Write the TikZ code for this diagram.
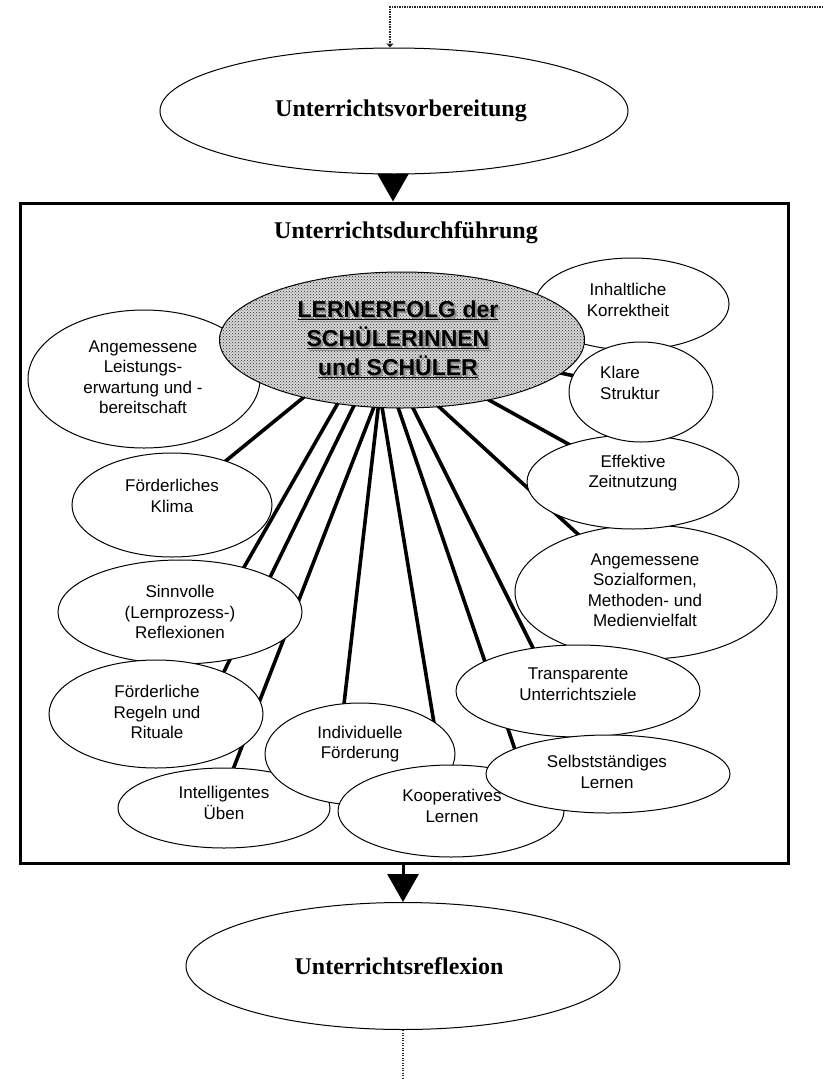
\documentclass[tikz,border=0pt]{standalone}
\usepackage{fontspec}
\setmainfont{Liberation Serif}
\newfontfamily\arialf{Liberation Sans}
\usetikzlibrary{arrows.meta,patterns,shapes.geometric}
\tikzset{
  sat/.style={draw, ellipse, fill=white, line width=1pt, inner sep=0pt},
  stxt/.style={font=\arialf\fontsize{17}{20.5}\selectfont, align=center, inner sep=0pt},
  ttl/.style={font=\fontsize{24}{28}\selectfont\bfseries, inner sep=0pt},
  conn/.style={line width=3.6pt},
  dotline/.style={line width=1.4pt, black!85, dash pattern=on 1.4pt off 1.1pt},
  bigarrow/.style={line width=3pt, -{Triangle[length=28pt,width=31pt]}}
}
\begin{document}
\begin{tikzpicture}[x=1pt,y=-1pt]
\fill[white] (0,0) rectangle (823,1079);
\useasboundingbox (0,0) rectangle (823,1079);

% top and bottom ellipses, box
\node[sat, minimum width=468pt, minimum height=126pt] (vor) at (394,111) {};
\node[ttl] (vortxt) at (401,111) {Unterrichtsvorbereitung};
\node[draw, line width=3pt, minimum width=768pt, minimum height=660pt, inner sep=0pt] (box) at (404,533) {};
\node[ttl] (boxtxt) at (406,233) {Unterrichtsdurchführung};
\node[sat, minimum width=434pt, minimum height=127pt] (refl) at (403,966) {};
\node[ttl] (refltxt) at (399,966) {Unterrichtsreflexion};

% dotted loop lines
\coordinate (dr) at (823,7);
\coordinate (db) at (403,1079);
\draw[dotline, -{Triangle[length=4pt,width=7pt]}] (dr) -- ([xshift=-4pt]vor.north |- dr) -- ([xshift=-4pt]vor.north);
\draw[dotline] (refl.south) -- (db);

% big arrows
\draw[bigarrow] ([xshift=-1pt]vor.south) -- ([xshift=-1pt]vor.south |- box.north);
\draw[bigarrow] (box.south -| refl.north) -- (refl.north);

% center reference
\coordinate (lc) at (402,340);

% satellite centres
\path (172,505) coordinate (klimac) (180,612) coordinate (sinnc) (156,714) coordinate (regelnc)
      (224,808) coordinate (intelc) (360,754) coordinate (indivc) (451,811) coordinate (koopc)
      (608,774) coordinate (selbc) (578,691) coordinate (transc) (646,592) coordinate (sozc)
      (633,482) coordinate (effc) (641,392) coordinate (klarec);
% connectors (beneath everything)
\draw[conn] ([shift={(-65,30)}]lc) -- ([shift={(28,-23)}]klimac);
\draw[conn] ([shift={(-28,0)}]lc) -- ([shift={(51,-22)}]sinnc);
\draw[conn] ([shift={(-16,0)}]lc) -- ([shift={(59,-24)}]regelnc);
\draw[conn] ([shift={(-2,0)}]lc) -- ([shift={(1,-18)}]intelc);
\draw[conn] ([shift={(-16,0)}]lc) -- ([shift={(-19,-24)}]indivc);
\draw[conn] ([shift={(-31,0)}]lc) -- ([shift={(-6,-21)}]koopc);
\draw[conn] ([shift={(-27,0)}]lc) -- ([shift={(-86,-4)}]selbc);
\draw[conn] ([shift={(-23,0)}]lc) -- ([shift={(-29,-11)}]transc);
\draw[conn] ([shift={(-14,20)}]lc) -- ([shift={(-29,-22)}]sozc);
\draw[conn] ([shift={(33,30)}]lc) -- ([shift={(-18,-12)}]effc);
\draw[conn] ([shift={(98,20)}]lc) -- ([shift={(-1,-2)}]klarec);

% ellipses
\node[sat, minimum width=194pt, minimum height=92pt] (inh) at (632,304) {};
\node[sat, minimum width=232pt, minimum height=138pt] (leist) at (144,379) {};
\node[draw, ellipse, line width=1pt, fill=gray!30, inner sep=0pt,
      postaction={pattern=crosshatch dots, pattern color=black!85},
      minimum width=365pt, minimum height=136pt] (lern) at (lc) {};
\node[sat, minimum width=262pt, minimum height=134pt] (soz) at (sozc) {};
\node[sat, minimum width=212pt, minimum height=94pt] (eff) at (effc) {};
\node[sat, minimum width=144pt, minimum height=100pt] (klare) at (klarec) {};
\node[sat, minimum width=244pt, minimum height=92pt] (trans) at (transc) {};
\node[sat, minimum width=200pt, minimum height=104pt] (klima) at (klimac) {};
\node[sat, minimum width=244pt, minimum height=104pt] (sinn) at (sinnc) {};
\node[sat, minimum width=214pt, minimum height=108pt] (regeln) at (regelnc) {};
\node[sat, minimum width=212pt, minimum height=80pt] (intel) at (intelc) {};
\node[sat, minimum width=190pt, minimum height=102pt] (indiv) at (indivc) {};
\node[sat, minimum width=226pt, minimum height=92pt] (koop) at (koopc) {};
\node[sat, minimum width=244pt, minimum height=78pt] (selb) at (selbc) {};

% texts
\node[stxt] (inhtxt) at (628,300) {Inhaltliche\\Korrektheit};
\node[stxt, anchor=west, align=left] (klaretxt) at (600,383) {Klare\\Struktur};
\node[stxt] (efftxt) at (633,473) {Effektive\\Zeitnutzung};
\node[stxt] (soztxt) at (645,590) {Angemessene\\Sozialformen,\\Methoden- und\\Medienvielfalt};
\node[stxt] (transtxt) at (578,684) {Transparente\\Unterrichtsziele};
\node[stxt] (selbtxt) at (607,772) {Selbstständiges\\Lernen};
\node[stxt] (kooptxt) at (452,806) {Kooperatives\\Lernen};
\node[stxt] (indivtxt) at (360,744) {Individuelle\\Förderung};
\node[stxt] (inteltxt) at (224,803) {Intelligentes\\Üben};
\node[stxt] (regelntxt) at (157,712) {Förderliche\\Regeln und\\Rituale};
\node[stxt] (sinntxt) at (180,612) {Sinnvolle\\(Lernprozess-)\\Reflexionen};
\node[stxt] (klimatxt) at (172,496) {Förderliches\\Klima};
\node[stxt] (leisttxt) at (143,377) {Angemessene\\Leistungs-\\erwartung und -\\bereitschaft};

% center text with shadow
\node[font=\arialf\bfseries\fontsize{23}{29}\selectfont, align=center, inner sep=0pt, text=black!45] (lernshadow) at (400,341) {\underline{LERNERFOLG der}\\\underline{SCHÜLERINNEN}\\\underline{und SCHÜLER}};
\node[font=\arialf\bfseries\fontsize{23}{29}\selectfont, align=center, inner sep=0pt] (lerntxt) at (398,339) {\underline{LERNERFOLG der}\\\underline{SCHÜLERINNEN}\\\underline{und SCHÜLER}};
\end{tikzpicture}
\end{document}
